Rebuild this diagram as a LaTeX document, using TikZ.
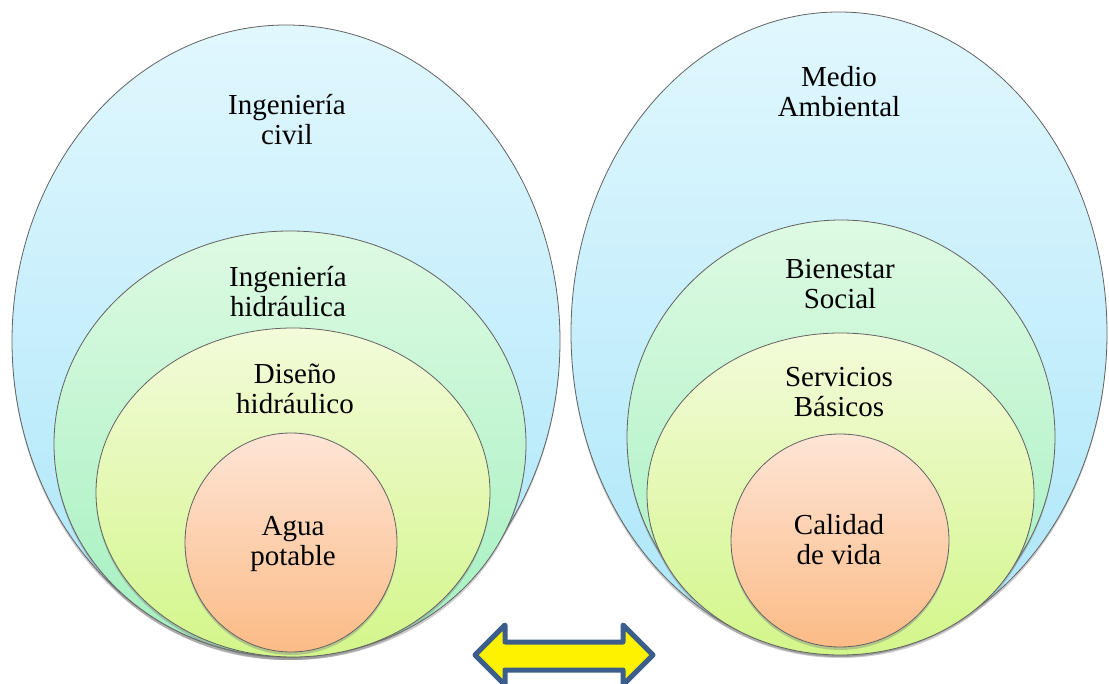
\documentclass[tikz,border=0pt]{standalone}
\usepackage{fontspec}
\setmainfont{Liberation Serif}
\newfontfamily\romanfont{Liberation Serif}
\usetikzlibrary{shadows}

\definecolor{skytop}{HTML}{E1F7FE}
\definecolor{skybot}{HTML}{ABE6F9}
\definecolor{mintop}{HTML}{DEFAE3}
\definecolor{minbot}{HTML}{A3F0BF}
\definecolor{limetop}{HTML}{F3FBDA}
\definecolor{limebot}{HTML}{D3F68A}
\definecolor{peachtop}{HTML}{FEE5D6}
\definecolor{peachbot}{HTML}{FBBB86}
\definecolor{rimgray}{HTML}{626262}
\definecolor{arrowblue}{HTML}{3B5E8C}

\begin{document}
\begin{tikzpicture}[x=1pt, y=-1pt,
	ring/.style={draw=rimgray, line width=0.8pt, drop shadow={shadow xshift=0pt, shadow yshift=-3pt, opacity=0.4}},
	level1/.style={ring, top color=skytop, bottom color=skybot},
	level2/.style={ring, top color=mintop, bottom color=minbot},
	level3/.style={ring, top color=limetop, bottom color=limebot},
	level4/.style={ring, top color=peachtop, bottom color=peachbot},
	tag/.style={align=center, inner sep=0pt, font=\romanfont\fontsize{29}{30}\selectfont}]
			%%%%% START %%%%%
			
			\useasboundingbox (0, 0) rectangle (1109, 684);
			\clip (0, 0) rectangle (1109, 684);
			
			% left set
			\draw[level1] (286, 341) ellipse [x radius=274, y radius=316];
			\draw[level2] (290, 444) ellipse [x radius=236, y radius=213];
			\draw[level3] (293, 492.5) ellipse [x radius=197, y radius=164.5];
			\draw[level4] (291, 542.5) ellipse [x radius=106, y radius=109.5];
			
			\node[tag] (civil) at (287, 120) {Ingeniería\\civil};
			\node[tag] (hidraulica) at (288, 292) {Ingeniería\\hidráulica};
			\node[tag] (diseno) at (295, 389) {Diseño\\hidráulico};
			\node[tag] (agua) at (293, 544) {Agua\\potable};
			
			% right set
			\draw[level1] (839, 333) ellipse [x radius=268, y radius=321];
			\draw[level2] (841, 437) ellipse [x radius=214, y radius=217];
			\draw[level3] (840.5, 494) ellipse [x radius=193.5, y radius=161];
			\draw[level4] (840, 540.5) ellipse [x radius=109, y radius=106.5];
			
			\node[tag] (medio) at (839, 92) {Medio\\Ambiental};
			\node[tag] (bienestar) at (840, 284) {Bienestar\\Social};
			\node[tag] (servicios) at (839, 392) {Servicios\\Básicos};
			\node[tag] (calidad) at (839, 540) {Calidad\\de vida};
			
			% double arrow
			\draw[line width=5pt, draw=arrowblue, fill=yellow, line join=round]
				(475, 655) -- (505, 625) -- (505, 642) -- (623, 642) -- (623, 625) -- (653, 655)
				-- (623, 685) -- (623, 670) -- (505, 670) -- (505, 685) -- cycle;
			
			%%%%% END %%%%%
\end{tikzpicture}
\end{document}
